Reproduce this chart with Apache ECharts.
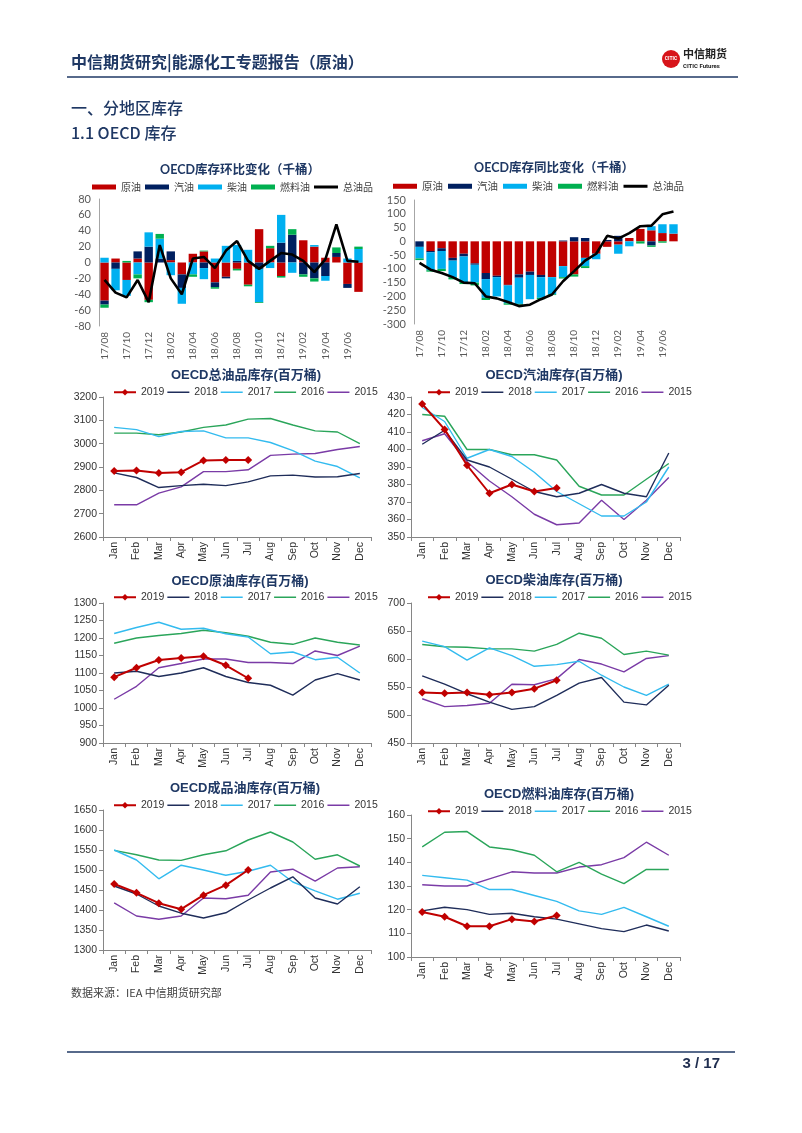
<!DOCTYPE html>
<html><head><meta charset="utf-8">
<script src="https://cdn.jsdelivr.net/npm/echarts@6/dist/echarts.min.js"></script>
<style>html,body{margin:0;padding:0;background:#fff}#c{width:802px;height:1133px}</style>
</head><body><div id="c"></div>
<script>
// ---------- categories ----------
const barMonths = ['17/08','17/09','17/10','17/11','17/12','18/01','18/02','18/03','18/04','18/05','18/06','18/07','18/08','18/09','18/10','18/11','18/12','19/01','19/02','19/03','19/04','19/05','19/06','19/07'];
const months = ['Jan','Feb','Mar','Apr','May','Jun','Jul','Aug','Sep','Oct','Nov','Dec'];
const barNames = ['原油','汽油','柴油','燃料油','总油品'];
const yearNames = ['2019','2018','2017','2016','2015'];

// ---------- OECD库存环比变化（千桶） ----------
const momCrude  = [-48, 5,-22, 5,-47, 0, 3,-15, 11, 14,-25,-18, -8,-28, 42, 18,-17, 0, 28, 20,  6, 7,-27,-37];
const momGas    = [ -5,-8,  0, 9, 20, 5,11,-17,  0, -7, -6, -2,  2,  0, -8,  0, 25,35,-15,-20,-17, 5, -5,  0];
const momDiesel = [  6,-27,-20,-15,18,25,-16,-20,-15,-14, 5, 21, 20, 16,-42, -7, 35,-13,  0,  2, -6, 0,  5, 17];
const momFuel   = [ -4, 0,  2, -5, -3, 6, 0,  0, -3,  1, -2,  0, -2, -2, -1,  3, -2, 7, -3, -4,  0, 7,  0,  3];
const momTotal  = [-22,-38,-44,-22,-50,22,-20,-40, 5,  7, -7, 15, 27,  2, -8,  2, 12,10,  2,-12,  4,48,  2,  1];

// ---------- OECD库存同比变化（千桶） ----------
const yoyCrude  = [  0,-35,-25,-60,-45,-80,-115,-125,-158,-120,-110,-122,-130,-90,-120,-60,-45,-20,-12, 12, 45, 40, 30, 28];
const yoyGas    = [-20, -5,-10,-10,-10, -5, -22,  -5,  -2, -12, -12,  -8,   0,  3,  15, 12,  0,  5, 20,  0,  0,-15,  0,  0];
const yoyDiesel = [-42,-65,-65,-60,-93,-65, -68, -70, -65, -95, -88, -75, -62,-40,   0,-30,-20,  0,-33,-18,  0, 15, 32, 34];
const yoyFuel   = [ -6, -5, -8, -8, -7,-10,  -8,   0,  -5,  -3,   0,  -5,  -3, -5,  -8, -7,  0,  0,  0,  0, -8, -5, -5,  0];
const yoyTotal  = [-78,-103,-115,-130,-150,-152,-200,-207,-220,-235,-230,-210,-193,-145,-108,-70,-45,20,10,30,55,57,98,108];

// ---------- OECD总油品库存(百万桶) ----------
const total2019 = [2883,2885,2874,2878,2928,2930,2930];
const total2018 = [2875,2855,2812,2820,2826,2820,2836,2862,2865,2857,2858,2872];
const total2017 = [3070,3060,3030,3052,3055,3025,3025,3005,2970,2925,2902,2853];
const total2016 = [3045,3045,3038,3050,3070,3080,3105,3108,3080,3055,3050,3000];
const total2015 = [2738,2738,2788,2815,2880,2880,2888,2950,2955,2958,2975,2988];

// ---------- OECD汽油库存(百万桶) ----------
const gas2019 = [426,411.5,391,375,380,376,378];
const gas2018 = [403,411,394,390,383,376,373,375,380,375,373,398];
const gas2017 = [424,416,395,400,396,387,376,369,362,362,370,390];
const gas2016 = [420,419,400,400,397,397,394,379,374,374,383,392];
const gas2015 = [405,409,393,382,373,363,357,358,371,360,371,384];

// ---------- OECD原油库存(百万桶) ----------
const crude2019 = [1088,1115,1137,1143,1148,1122,1085];
const crude2018 = [1100,1105,1090,1100,1115,1090,1073,1065,1037,1080,1098,1080];
const crude2017 = [1213,1230,1245,1225,1228,1212,1203,1155,1160,1138,1145,1100];
const crude2016 = [1185,1200,1207,1213,1222,1215,1205,1188,1182,1200,1188,1180];
const crude2015 = [1025,1062,1115,1127,1140,1140,1130,1130,1127,1163,1150,1177];

// ---------- OECD柴油库存(百万桶) ----------
const diesel2019 = [540,539,540,536,540,547,562];
const diesel2018 = [570,555,538,523,510,515,535,557,567,523,518,553];
const diesel2017 = [632,622,598,620,606,587,590,596,571,550,535,555];
const diesel2016 = [626,622,621,618,618,614,626,646,637,608,614,607];
const diesel2015 = [529,515,517,521,555,554,565,599,591,577,601,606];

// ---------- OECD成品油库存(百万桶) ----------
const prod2019 = [1465,1443,1417,1402,1437,1462,1500];
const prod2018 = [1460,1440,1410,1392,1380,1393,1425,1455,1483,1430,1415,1458];
const prod2017 = [1550,1525,1478,1512,1500,1487,1497,1512,1470,1448,1427,1442];
const prod2016 = [1549,1538,1525,1524,1538,1548,1575,1595,1570,1527,1538,1510];
const prod2015 = [1418,1385,1377,1385,1430,1428,1437,1495,1502,1472,1505,1508];

// ---------- OECD燃料油库存(百万桶) ----------
const fuel2019 = [119,117,113,113,116,115,117.5];
const fuel2018 = [119.5,121,120,118,118.5,117,116,114,112,110.7,113.5,111];
const fuel2017 = [134.5,133.5,132.5,128.5,128.5,126,123.5,119.5,118,121,117,113];
const fuel2016 = [146.5,152.7,153,146.5,145.3,143,136,140,135,131,137,137];
const fuel2015 = [130.5,130,130,133,136,135.5,135.5,138,139,142,148.5,143];

// ---------- styling ----------
const NAVY = '#1f3864';
const barColors = ['#c00000','#002060','#00b0f0','#00b050','#000000'];
const yearColors = ['#c00000','#1f2d5a','#33bbef','#2aa55a','#7a3ba6'];
const CJK = "'Noto Sans CJK SC'";
const BARFONT = "Lato, " + CJK;
const LINEFONT = "'Liberation Sans', " + CJK;
const plain = v => String(v);

const chart = echarts.init(document.getElementById('c'), null, {renderer:'canvas'});

const grids = [], xAxes = [], yAxes = [], series = [], legends = [], graphics = [];

function addTitle(text, x, y, bold, family){
  graphics.push({type:'text', x:x, y:y, style:{text:text, align:'center', verticalAlign:'middle',
    font:(bold?'bold 13px ':'bold 12.5px ')+family, fill:NAVY}});
}

function barChart(g, cats, arrs, total, ymin, ymax, step){
  const idx = grids.length;
  grids.push({left:g[0], top:g[1], width:g[2], height:g[3], containLabel:false});
  xAxes.push({type:'category', gridIndex:idx, data:cats, position:'bottom',
    axisLine:{show:false, onZero:false}, axisTick:{show:false},
    axisLabel:{rotate:90, interval:1, margin:6, fontSize:10, color:'#595959', fontFamily:BARFONT}});
  yAxes.push({type:'value', gridIndex:idx, min:ymin, max:ymax, interval:step,
    axisLine:{show:true, lineStyle:{color:'#a6a6a6'}}, axisTick:{show:false}, splitLine:{show:false},
    axisLabel:{fontSize:11, color:'#595959', margin:8, fontFamily:BARFONT, formatter:plain}});
  arrs.forEach((a,i)=>{
    series.push({type:'bar', name:barNames[i], xAxisIndex:idx, yAxisIndex:idx, stack:'s'+idx,
      data:a, barWidth:'76%', itemStyle:{color:barColors[i]}});
  });
  series.push({type:'line', name:barNames[4], xAxisIndex:idx, yAxisIndex:idx, data:total,
    symbol:'none', lineStyle:{color:'#000', width:2.6}, itemStyle:{color:'#000'}, z:5});
}

function lineChart(g, arrs, ymin, ymax, step){
  const idx = grids.length;
  grids.push({left:g[0], top:g[1], width:g[2], height:g[3], containLabel:false});
  xAxes.push({type:'category', gridIndex:idx, data:months, boundaryGap:true,
    axisLine:{show:true, onZero:false, lineStyle:{color:'#868686'}},
    axisTick:{show:true, length:4, lineStyle:{color:'#868686'}},
    axisLabel:{rotate:90, interval:0, margin:5, fontSize:10.5, color:'#333', fontFamily:LINEFONT}});
  yAxes.push({type:'value', gridIndex:idx, min:ymin, max:ymax, interval:step,
    axisLine:{show:true, lineStyle:{color:'#868686'}},
    axisTick:{show:true, length:4, lineStyle:{color:'#868686'}}, splitLine:{show:false},
    axisLabel:{fontSize:10.5, color:'#333', margin:6, fontFamily:LINEFONT, formatter:plain}});
  arrs.forEach((a,i)=>{
    const s = {type:'line', name:yearNames[i], xAxisIndex:idx, yAxisIndex:idx, data:a,
      lineStyle:{color:yearColors[i], width:i===0?2:1.4}, itemStyle:{color:yearColors[i]}, z:i===0?6:3-i*0.1};
    if(i===0){ s.symbol='diamond'; s.symbolSize=8; } else { s.symbol='none'; }
    series.push(s);
  });
}

function barLegend(left, top, fs, gap){
  const data = barNames.map((n,i)=> i===4 ? {name:n, icon:'path://M0,0L24,0L24,3L0,3Z'} : {name:n});
  legends.push({left:left, top:top, data:data, icon:'rect', itemWidth:24, itemHeight:5,
    itemGap:gap, itemTextGap:3, padding:0, selectedMode:false,
    textStyle:{fontSize:fs, color:'#404040', fontFamily:CJK}});
}
function lineLegend(left, top){
  const data = yearNames.map((n,i)=> i===0 ? {name:n} : {name:n, icon:'path://M0,0L22,0L22,1.5L0,1.5Z'});
  legends.push({left:left, top:top, data:data, itemWidth:22, itemHeight:8,
    itemGap:3, itemTextGap:4, padding:0, selectedMode:false,
    textStyle:{fontSize:10.5, color:'#333', fontFamily:LINEFONT}});
}

// top-left: MoM
barChart([99,199,265,127], barMonths, [momCrude,momGas,momDiesel,momFuel], momTotal, -80, 80, 20);
addTitle('OECD库存环比变化（千桶）', 240, 170, false, BARFONT);
barLegend(92, 182, 10, 4);
// top-right: YoY
barChart([414,200,265,124], barMonths, [yoyCrude,yoyGas,yoyDiesel,yoyFuel], yoyTotal, -300, 150, 50);
addTitle('OECD库存同比变化（千桶）', 554, 168, false, BARFONT);
barLegend(393, 181, 10.5, 5);

lineChart([103,397,268,140], [total2019,total2018,total2017,total2016,total2015], 2600, 3200, 100);
addTitle('OECD总油品库存(百万桶)', 246, 375, true, LINEFONT);
lineLegend(113, 387);

lineChart([411,397,269,140], [gas2019,gas2018,gas2017,gas2016,gas2015], 350, 430, 10);
addTitle('OECD汽油库存(百万桶)', 554, 375, true, LINEFONT);
lineLegend(427, 387);

lineChart([103,603,268,140], [crude2019,crude2018,crude2017,crude2016,crude2015], 900, 1300, 50);
addTitle('OECD原油库存(百万桶)', 240, 581, true, LINEFONT);
lineLegend(113, 592);

lineChart([411,603,269,140], [diesel2019,diesel2018,diesel2017,diesel2016,diesel2015], 450, 700, 50);
addTitle('OECD柴油库存(百万桶)', 554, 580, true, LINEFONT);
lineLegend(427, 592);

lineChart([103,810,268,140], [prod2019,prod2018,prod2017,prod2016,prod2015], 1300, 1650, 50);
addTitle('OECD成品油库存(百万桶)', 245, 788, true, LINEFONT);
lineLegend(113, 800);

lineChart([411,815,269,142], [fuel2019,fuel2018,fuel2017,fuel2016,fuel2015], 100, 160, 10);
addTitle('OECD燃料油库存(百万桶)', 559, 794, true, LINEFONT);
lineLegend(427, 806);

// ---------- page furniture ----------
graphics.push(
  {type:'text', x:71, y:62, style:{text:'中信期货研究|能源化工专题报告（原油）', verticalAlign:'middle', font:'bold 16px '+CJK, fill:NAVY}},
  {type:'line', shape:{x1:67, y1:77, x2:738, y2:77}, style:{stroke:NAVY, lineWidth:1.5}},
  {type:'circle', shape:{cx:671, cy:59, r:9}, style:{fill:'#d7141a'}},
  {type:'text', x:671, y:59, style:{text:'CITIC', align:'center', verticalAlign:'middle', font:'bold 5px Roboto', fill:'#fff'}},
  {type:'text', x:683, y:54, style:{text:'中信期货', verticalAlign:'middle', font:'bold 11px '+CJK, fill:'#222'}},
  {type:'text', x:683, y:66, style:{text:'CITIC Futures', verticalAlign:'middle', font:'bold 6px Roboto', fill:'#222'}},
  {type:'text', x:71, y:108, style:{text:'一、分地区库存', verticalAlign:'middle', font:'500 16px '+CJK, fill:NAVY}},
  {type:'text', x:71, y:133, style:{text:'1.1 OECD 库存', verticalAlign:'middle', font:'500 16px '+CJK, fill:NAVY}},
  {type:'text', x:71, y:993, style:{text:'数据来源：IEA 中信期货研究部', verticalAlign:'middle', font:'11px '+CJK, fill:'#404040'}},
  {type:'line', shape:{x1:67, y1:1052, x2:735, y2:1052}, style:{stroke:NAVY, lineWidth:1.5}},
  {type:'text', x:720, y:1064, style:{text:'3 / 17', align:'right', verticalAlign:'middle', font:'bold 15px '+LINEFONT, fill:'#1f2d4f'}}
);

chart.setOption({
  animation:false,
  backgroundColor:'#fff',
  grid:grids, xAxis:xAxes, yAxis:yAxes, series:series, legend:legends,
  graphic:graphics
});
</script></body></html>
